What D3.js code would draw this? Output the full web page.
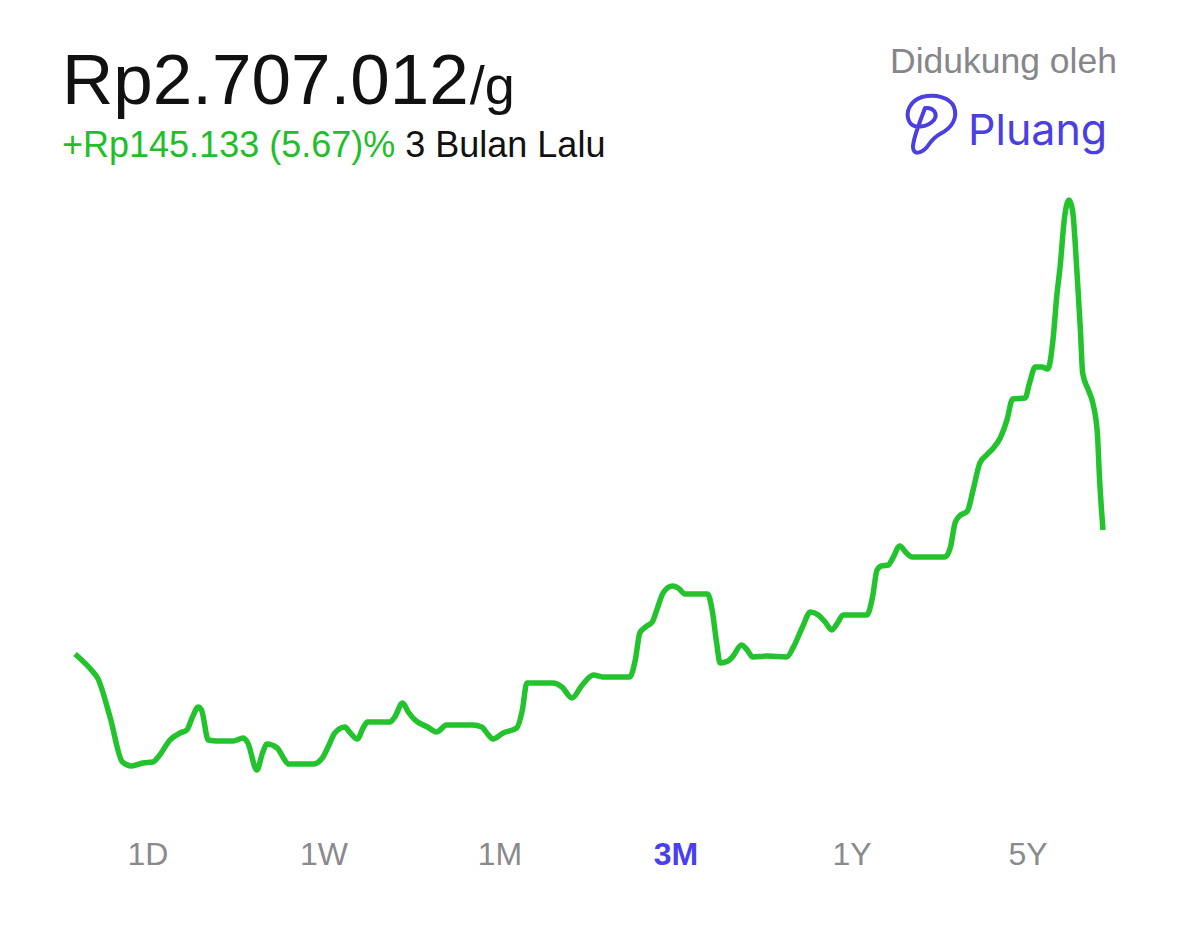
<!DOCTYPE html>
<html>
<head>
<meta charset="utf-8">
<script src="https://cdn.jsdelivr.net/npm/d3@7"></script>
<style>
  html, body { margin: 0; padding: 0; background: #ffffff; }
  svg { display: block; }
</style>
</head>
<body>
<svg id="chart" width="1179" height="932"></svg>
<script>
// ---- Data ----
const currentPrice = "Rp2.707.012";
const unitLabel = "/g";
const changeLabel = "+Rp145.133 (5.67)%";
const periodLabel = "3 Bulan Lalu";
const sponsorLabel = "Didukung oleh";
const brandName = "Pluang";

// day offset within the 3-month window
const days = [
  0, 1.6, 2.0, 3.1, 4.2, 5.0, 6.0, 6.9, 7.5, 8.4,
  9.3, 9.9, 10.4, 10.9, 11.2, 11.8, 12.6, 14.0, 14.9, 15.3,
  16.1, 16.6, 17.0, 17.9, 18.3, 18.9, 21.1, 21.9, 22.4, 23.0,
  23.9, 24.3, 25.0, 25.5, 25.9, 27.9, 28.3, 29.0, 29.5, 30.1,
  31.2, 32.0, 32.9, 35.2, 36.0, 36.6, 37.0, 37.9, 39.1, 39.6,
  40.0, 42.3, 43.1, 44.0, 44.9, 45.9, 46.7, 49.1, 49.6, 50.0,
  50.5, 51.1, 51.5, 52.1, 52.9, 53.4, 54.0, 56.0, 56.4, 56.8,
  57.1, 57.8, 58.2, 59.0, 59.5, 60.0, 61.3, 63.0, 63.6, 64.4,
  65.1, 65.8, 66.4, 67.0, 67.5, 68.0, 70.1, 70.6, 71.0, 71.4,
  72.0, 72.4, 73.0, 73.6, 74.1, 77.0, 77.5, 77.9, 78.3, 79.0,
  79.5, 80.1, 80.7, 81.3, 81.9, 82.5, 83.0, 84.1, 84.5, 85.0,
  85.6, 86.1, 86.6, 86.9, 87.2, 87.6, 88.0, 88.3, 88.7, 89.0,
  89.2, 89.7, 90.1, 90.5, 90.7, 91.0
];
// gold price per gram (Rp)
const prices = [
  2561879, 2540800, 2533800, 2488100, 2435500, 2430800, 2434300, 2435500, 2443700, 2461200,
  2469400, 2472900, 2488100, 2499800, 2496300, 2461200, 2460100, 2460100, 2463600, 2457700,
  2426100, 2446000, 2456500, 2451900, 2443700, 2433100, 2433100, 2440200, 2453000, 2469400,
  2476400, 2470600, 2462400, 2475300, 2482300, 2482300, 2488100, 2504500, 2494000, 2484600,
  2476400, 2470600, 2478800, 2478800, 2476400, 2467100, 2462400, 2469400, 2475300, 2496300,
  2527900, 2527900, 2523300, 2510400, 2525600, 2537300, 2535000, 2535000, 2554900, 2586500,
  2593500, 2599300, 2613400, 2634400, 2641500, 2639100, 2632100, 2632100, 2613400, 2574800,
  2551300, 2553700, 2558400, 2572400, 2566600, 2558400, 2559500, 2558400, 2570100, 2593500,
  2611000, 2607500, 2599300, 2590000, 2598200, 2607500, 2607500, 2628600, 2660200, 2664900,
  2666000, 2674200, 2688300, 2680100, 2675400, 2675400, 2687100, 2715200, 2723400, 2729200,
  2753800, 2785400, 2794800, 2803000, 2814700, 2835800, 2860300, 2861500, 2879100, 2897800,
  2897800, 2895400, 2932900, 2979700, 3014800, 3073300, 3093200, 3081500, 3007800, 2941100,
  2890800, 2870900, 2855600, 2820500, 2765500, 2707012
];

const periods = ["1D", "1W", "1M", "3M", "1Y", "5Y"];
const activePeriod = "3M";

// ---- Drawing ----
const svg = d3.select("#chart");
const FONT = "'Liberation Sans', Arial, sans-serif";

const series = days.map((d, i) => ({ day: d, price: prices[i] }));

const x = d3.scaleLinear().domain(d3.extent(days)).range([75, 1103]);
const y = d3.scaleLinear().domain(d3.extent(prices)).range([770, 200]);

const line = d3.line()
  .x(d => x(d.day))
  .y(d => y(d.price))
  .curve(d3.curveMonotoneX);

svg.append("path")
  .datum(series)
  .attr("d", line)
  .attr("fill", "none")
  .attr("stroke", "#22c32c")
  .attr("stroke-width", 5.5)
  .attr("stroke-linejoin", "round")
  .attr("stroke-linecap", "butt");

// Header price
const head = svg.append("text")
  .attr("x", 62).attr("y", 104)
  .attr("font-family", FONT)
  .attr("fill", "#111111");
head.append("tspan").attr("font-size", 71).text(currentPrice);
head.append("tspan").attr("font-size", 54).attr("dx", 1).text(unitLabel);

const sub = svg.append("text")
  .attr("x", 62).attr("y", 157)
  .attr("font-family", FONT)
  .attr("font-size", 36);
sub.append("tspan").attr("fill", "#1fbf2a").text(changeLabel);
sub.append("tspan").attr("fill", "#111111").text(" " + periodLabel);

// Sponsor
svg.append("text")
  .attr("x", 1117).attr("y", 73)
  .attr("text-anchor", "end")
  .attr("font-family", FONT)
  .attr("font-size", 35.5)
  .attr("fill", "#86868b")
  .text(sponsorLabel);

const brandColor = "#4b3fe2";
svg.append("path")
  .attr("d", "M925,108 C920,122 913,138 913,147 C913,155 921,154 927,147 C931,141 934,137 940,134 C952,128 958,118 954,107 C950,97 935,94 922,97 C910,101 905,112 909,121 C913,130 928,127 934,120 C938,114 934,107 925,108 Z")
  .attr("fill", "none")
  .attr("stroke", brandColor)
  .attr("stroke-width", 4)
  .attr("stroke-linejoin", "round");

svg.append("text")
  .attr("x", 968).attr("y", 145)
  .attr("font-family", "Inter, 'Liberation Sans', sans-serif")
  .attr("font-size", 43)
  .attr("font-weight", 400)
  .attr("fill", brandColor)
  .text(brandName);

// Period selector
const px = d3.scalePoint().domain(periods).range([148, 1028]);
svg.append("g").selectAll("text")
  .data(periods)
  .join("text")
  .attr("x", d => px(d))
  .attr("y", 865)
  .attr("text-anchor", "middle")
  .attr("font-family", FONT)
  .attr("font-size", 32)
  .attr("font-weight", d => d === activePeriod ? "bold" : "normal")
  .attr("fill", d => d === activePeriod ? "#4a3ff0" : "#8a8a8e")
  .text(d => d);
</script>
</body>
</html>
